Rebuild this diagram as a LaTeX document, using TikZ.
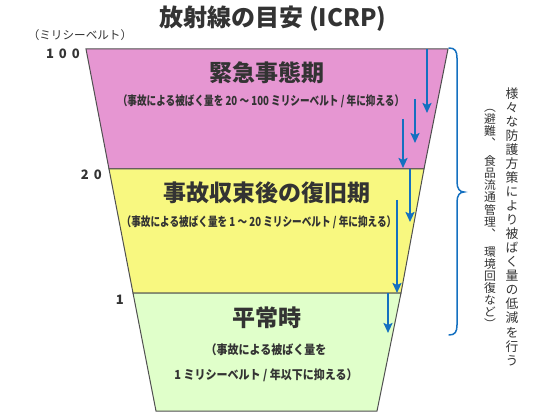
\documentclass[tikz,border=0pt]{standalone}
\usepackage{fontspec}
\setmainfont{Noto Sans CJK JP}
\newfontfamily\cjkc{Noto Sans CJK JP}[FakeStretch=0.77]
\newfontfamily\cjkd{Noto Sans CJK JP}[FakeStretch=0.88]
\newfontfamily\cjkv{Noto Sans CJK JP}[RawFeature=+vert]
\usetikzlibrary{arrows.meta}
\definecolor{pinkband}{HTML}{E696D2}
\definecolor{yellowband}{HTML}{F8F880}
\definecolor{greenband}{HTML}{E0FFCA}
\definecolor{arrowblue}{HTML}{1470C0}
\definecolor{txt}{HTML}{333333}
\definecolor{edge}{HTML}{505050}
\begin{document}
\begin{tikzpicture}[x=1pt,y=-1pt,
  band/.style={draw=edge, line width=1pt, line join=miter},
  heading/.style={font=\fontsize{23}{26}\selectfont\bfseries, text=txt, inner sep=0},
  subtxt/.style={font=\fontsize{12.5}{14}\cjkc\bfseries, text=txt, inner sep=0},
  subtxtb/.style={font=\fontsize{12.5}{14}\cjkd\bfseries, text=txt, inner sep=0},
  level/.style={font=\fontsize{13}{15}\selectfont\bfseries, text=txt, inner sep=0, anchor=east},
  down/.style={arrowblue, line width=2pt, -{Stealth[length=10pt,width=9pt,inset=2pt]}},
  vcol/.style={text=txt, inner sep=0, align=center}
]
\useasboundingbox (0,0) rectangle (550,420);
% corners
\coordinate (TL) at (86,49);   \coordinate (TR) at (448,49);
\coordinate (L20) at (109,169); \coordinate (R20) at (424,169);
\coordinate (L1) at (133,293);  \coordinate (R1) at (401,293);
\coordinate (BL) at (156,411);  \coordinate (BR) at (377,411);
% bands
\filldraw[band, fill=pinkband] (TL) -- (TR) -- (R20) -- (L20) -- cycle;
\filldraw[band, fill=yellowband] (L20) -- (R20) -- (R1) -- (L1) -- cycle;
\filldraw[band, fill=greenband] (L1) -- (R1) -- (BR) -- (BL) -- cycle;
% title
\node[text=txt, inner sep=0, font=\fontsize{24}{28}\selectfont\bfseries] (title) at (273,19) {放射線の目安 (ICRP)};
% unit and levels
\node[text=txt, inner sep=0, font=\fontsize{11.6}{13}\selectfont] (unit) at (80,35) {（ミリシーベルト）};
\node[level] (lv100) at (80,54) {1\hspace{5pt}0\hspace{5pt}0};
\node[level] (lv20) at (102,175) {2\hspace{5pt}0};
\node[level] (lv1) at (124,300) {1};
% headings
\node[heading] (h1) at (267,73) {緊急事態期};
\node[subtxt] (s1) at (261,101) {（事故による被ばく量を 20 ～ 100 ミリシーベルト / 年に抑える）};
\node[heading] (h2) at (267,193) {事故収束後の復旧期};
\node[subtxt] (s2) at (259,222) {（事故による被ばく量を 1 ～ 20 ミリシーベルト / 年に抑える）};
\node[heading] (h3) at (267,318) {平常時};
\node[subtxtb] (s3a) at (266,350) {（事故による被ばく量を};
\node[subtxtb] (s3b) at (266,375) {1 ミリシーベルト / 年以下に抑える）};
% arrows
\coordinate (a1s) at (427,49);  \coordinate (a1e) at (427,113);
\coordinate (a2s) at (415,99);  \coordinate (a2e) at (415,143);
\coordinate (a3s) at (403,119); \coordinate (a3e) at (403,168);
\coordinate (a4s) at (410,169); \coordinate (a4e) at (410,222);
\coordinate (a5s) at (397,200); \coordinate (a5e) at (397,293);
\coordinate (a6s) at (388,293); \coordinate (a6e) at (388,333);
\draw[down] (a1s) -- (a1e);
\draw[down] (a2s) -- (a2e);
\draw[down] (a3s) -- (a3e);
\draw[down] (a4s) -- (a4e);
\draw[down] (a5s) -- (a5e);
\draw[down] (a6s) -- (a6e);
% brace
\coordinate (bt) at (449,48);
\coordinate (btip) at (464,192);
\coordinate (bb) at (449,335);
\draw[arrowblue, line width=1.5pt, line cap=round]
  (bt) .. controls (455,48) and (457,51) .. (457,58)
  -- (457,182) .. controls (457,189) and (460,192) .. (btip)
  .. controls (460,192) and (457,195) .. (457,202)
  -- (457,325) .. controls (457,332) and (455,335) .. (bb);
% vertical texts
\node[vcol, font=\fontsize{12.8}{14.05}\cjkv] (v1) at (512,226.5)
 {様\\々\\な\\防\\護\\方\\策\\に\\よ\\り\\被\\ば\\く\\量\\の\\低\\減\\を\\行\\う};
\node[vcol, font=\fontsize{11.8}{12.1}\cjkv] (v2) at (490,219)
 {（\\避\\難\\、\\[6pt]食\\品\\流\\通\\管\\理\\、\\[6pt]環\\境\\回\\復\\な\\ど\\）};
\end{tikzpicture}
\end{document}
